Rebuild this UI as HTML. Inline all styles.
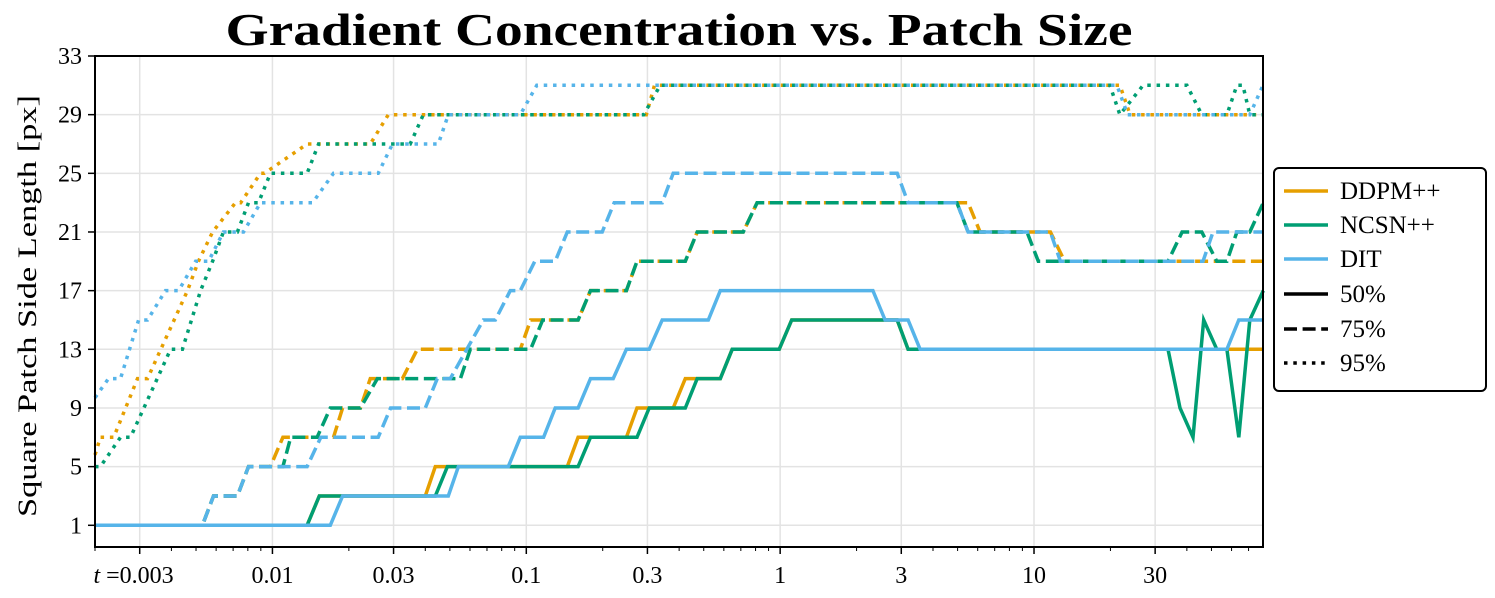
<!DOCTYPE html>
<html><head><meta charset="utf-8"><style>
html,body{margin:0;padding:0;background:#fff;}
svg{display:block;}
text{font-family:"Liberation Serif","DejaVu Serif",serif;fill:#000;}
</style></head><body>
<svg id="chart" width="1495" height="598" viewBox="0 0 1495 598" xmlns="http://www.w3.org/2000/svg">
<text x="679" y="45" text-anchor="middle" font-size="46" font-weight="bold" textLength="907" lengthAdjust="spacingAndGlyphs">Gradient Concentration vs. Patch Size</text>
<text transform="translate(36,306) rotate(-90)" text-anchor="middle" font-size="26" textLength="422" lengthAdjust="spacingAndGlyphs">Square Patch Side Length [px]</text>
<g id="grid"></g><g id="series"></g><g id="axes"></g>
<g>
<rect x="1274" y="168" width="212" height="223" rx="5" fill="#fff" stroke="#000" stroke-width="2"/>
<line x1="1284" y1="191" x2="1328" y2="191" stroke="#E69F00" stroke-width="3.5"/>
<text x="1340" y="199" font-size="25">DDPM++</text>
<line x1="1284" y1="225" x2="1328" y2="225" stroke="#009E73" stroke-width="3.5"/>
<text x="1340" y="233" font-size="25">NCSN++</text>
<line x1="1284" y1="259" x2="1328" y2="259" stroke="#56B4E9" stroke-width="3.5"/>
<text x="1340" y="267" font-size="25">DIT</text>
<line x1="1284" y1="294" x2="1328" y2="294" stroke="#000" stroke-width="3.5"/>
<text x="1340" y="302" font-size="25">50%</text>
<line x1="1284" y1="329" x2="1328" y2="329" stroke="#000" stroke-width="3.5" stroke-dasharray="13 5.6"/>
<text x="1340" y="337" font-size="25">75%</text>
<line x1="1284" y1="363" x2="1328" y2="363" stroke="#000" stroke-width="3.5" stroke-dasharray="3.5 5.8"/>
<text x="1340" y="371" font-size="25">95%</text>
</g>
</svg>
<script>
const yTicks = [1,5,9,13,17,21,25,29,33];
const xTicks = [0.003,0.01,0.03,0.1,0.3,1,3,10,30];
const xTickLabels = ["t =0.003","0.01","0.03","0.1","0.3","1","3","10","30"];
const ddpm50 = [[0.002,1],[0.0137,1],[0.0153,3],[0.0400,3],[0.0438,5],[0.145,5],[0.160,7],[0.248,7],[0.273,9],[0.379,9],[0.423,11],[0.581,11],[0.647,13],[0.991,13],[1.11,15],[2.89,15],[3.19,13],[80,13]];
const ncsn50 = [[0.002,1],[0.0137,1],[0.0153,3],[0.0438,3],[0.0489,5],[0.160,5],[0.179,7],[0.273,7],[0.305,9],[0.423,9],[0.471,11],[0.581,11],[0.647,13],[0.991,13],[1.11,15],[2.89,15],[3.19,13],[33.7,13],[37.6,9],[42.3,7],[46.6,15],[52.5,13],[57.5,13],[64.1,7],[70.8,15],[80,17]];
const dit50 = [[0.002,1],[0.0169,1],[0.0189,3],[0.0493,3],[0.054,5],[0.0849,5],[0.0947,7],[0.117,7],[0.130,9],[0.160,9],[0.179,11],[0.220,11],[0.248,13],[0.305,13],[0.343,15],[0.521,15],[0.581,17],[2.32,17],[2.59,15],[3.19,15],[3.56,13],[57.5,13],[64.1,15],[80,15]];
const ddpm75 = [[0.002,1],[0.0053,1],[0.00586,3],[0.00728,3],[0.00805,5],[0.00982,5],[0.0110,7],[0.0174,7],[0.0189,9],[0.0222,9],[0.0243,11],[0.0325,11],[0.0372,13],[0.0947,13],[0.104,15],[0.160,15],[0.179,17],[0.248,17],[0.273,19],[0.423,19],[0.471,21],[0.715,21],[0.811,23],[5.50,23],[6.13,21],[11.6,21],[13.2,19],[80,19]];
const ncsn75 = [[0.002,1],[0.0053,1],[0.00586,3],[0.00728,3],[0.00805,5],[0.0110,5],[0.0118,7],[0.0150,7],[0.0169,9],[0.0222,9],[0.0259,11],[0.0550,11],[0.0602,13],[0.104,13],[0.116,15],[0.160,15],[0.179,17],[0.248,17],[0.273,19],[0.423,19],[0.471,21],[0.715,21],[0.811,23],[4.97,23],[5.50,21],[9.38,21],[10.4,19],[33.7,19],[38.3,21],[45.8,21],[52.5,19],[57.5,19],[63.0,21],[70.8,21],[80,23]];
const dit75 = [[0.002,1],[0.0053,1],[0.00586,3],[0.00728,3],[0.00805,5],[0.0137,5],[0.0155,7],[0.0261,7],[0.0292,9],[0.0400,9],[0.0446,11],[0.0502,11],[0.0677,15],[0.0755,15],[0.0865,17],[0.0947,17],[0.108,19],[0.130,19],[0.145,21],[0.199,21],[0.222,23],[0.343,23],[0.379,25],[2.89,25],[3.19,23],[4.97,23],[5.50,21],[11.6,21],[12.7,19],[46.3,19],[50.7,21],[80,21]];
const ddpm95 = [[0.002,5.8],[0.0021,7],[0.00237,7],[0.00294,11],[0.00322,11],[0.00463,17],[0.00511,19],[0.00581,21],[0.00715,23],[0.0075,23],[0.00897,25],[0.0093,25],[0.0137,27],[0.0243,27],[0.0286,29],[0.297,29],[0.320,31],[21.8,31],[23.9,29],[80,29]];
const ncsn95 = [[0.002,5],[0.0021,5],[0.00252,7],[0.00276,7],[0.00397,13],[0.00442,13],[0.00521,17],[0.00581,19],[0.00641,21],[0.00728,21],[0.00805,23],[0.00881,23],[0.00982,25],[0.0137,25],[0.0152,27],[0.0349,27],[0.0393,29],[0.290,29],[0.337,31],[19.9,31],[21.8,29],[26.9,31],[40.0,31],[45.8,29],[57.5,29],[63.0,31],[66.5,31],[70.8,29],[80,29]];
const dit95 = [[0.002,9.7],[0.00226,11],[0.00252,11],[0.00297,15],[0.00322,15],[0.00379,17],[0.00427,17],[0.00498,19],[0.0056,19],[0.00641,21],[0.00769,21],[0.00897,23],[0.0144,23],[0.0174,25],[0.0261,25],[0.0297,27],[0.0450,27],[0.0493,29],[0.0947,29],[0.110,31],[21.2,31],[23.4,29],[70.8,29],[79.8,31]];

const L=95,R=1263,T=56,B=547;
const X0=Math.log10(0.002),X1=Math.log10(79.8);
const Y0=-0.48,Y1=33;
function xs(t){return L+(Math.log10(t)-X0)/(X1-X0)*(R-L);}
function ys(v){return B-(v-Y0)/(Y1-Y0)*(B-T);}
const NS="http://www.w3.org/2000/svg";
function mk(tag,attrs,parent){const e=document.createElementNS(NS,tag);for(const k in attrs)e.setAttribute(k,attrs[k]);parent.appendChild(e);return e;}
const grid=document.getElementById('grid'),ser=document.getElementById('series'),axes=document.getElementById('axes');
yTicks.forEach(v=>{
  const g=mk('line',{x1:L,x2:R,y1:ys(v),y2:ys(v),stroke:'#e3e3e3','stroke-width':1.5},grid);
  
  
  const tk=mk('line',{x1:L-7,x2:L,y1:ys(v),y2:ys(v),stroke:'#000','stroke-width':1.5},axes);
  
  
  const lb=mk('text',{x:L-13,y:ys(v)+8,'text-anchor':'end','font-size':24},axes);
  lb.textContent=v;
  
  
});
xTicks.forEach((t,i)=>{
  const g=mk('line',{x1:xs(t),x2:xs(t),y1:T,y2:B,stroke:'#e3e3e3','stroke-width':1.5},grid);
  
  
  const tk=mk('line',{x1:xs(t),x2:xs(t),y1:B,y2:B+7,stroke:'#000','stroke-width':1.5},axes);
  
  
  const lb=mk('text',{x:xs(t),y:583,'text-anchor':'middle','font-size':24},axes);
  if(i===0){lb.setAttribute('text-anchor','end');lb.setAttribute('x',xs(t)+34);}
  lb.textContent=xTickLabels[i];
  if(i===0){lb.innerHTML='<tspan font-style="italic">t</tspan> =0.003';}
  
  
});
for(let d=-3;d<=1;d++){for(let m=2;m<=9;m++){
  const t=m*Math.pow(10,d);
  if(m===3)continue;
  if(t<0.002||t>79.8)continue;
  const tk=mk('line',{x1:xs(t),x2:xs(t),y1:B,y2:B+4,stroke:'#000','stroke-width':1},axes);
  
  
}}
const fr=mk('rect',{x:L,y:T,width:R-L,height:B-T,fill:'none',stroke:'#000','stroke-width':2},axes);


const series=[
 [ddpm95,'#E69F00','3.5 5.8','ddpm-95'],[ncsn95,'#009E73','3.5 5.8','ncsn-95'],[dit95,'#56B4E9','3.5 5.8','dit-95'],
 [ddpm75,'#E69F00','13 5.6','ddpm-75'],[ncsn75,'#009E73','13 5.6','ncsn-75'],[dit75,'#56B4E9','13 5.6','dit-75'],
 [ddpm50,'#E69F00','','ddpm-50'],[ncsn50,'#009E73','','ncsn-50'],[dit50,'#56B4E9','','dit-50']];
series.forEach(s=>{
  const d=s[0].map((p,i)=>(i?'L':'M')+xs(p[0]).toFixed(1)+','+ys(p[1]).toFixed(1)).join(' ');
  const a={d:d,fill:'none',stroke:s[1],'stroke-width':3.5,'stroke-linejoin':'miter'};
  if(s[2])a['stroke-dasharray']=s[2];
  const p=mk('path',a,ser);
  
  
});
</script>
</body></html>
